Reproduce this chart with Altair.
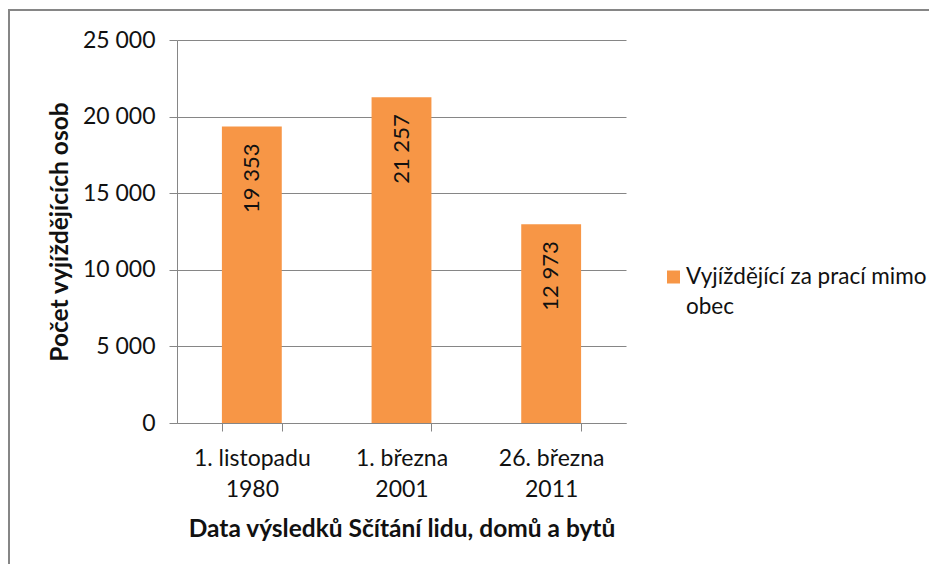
import altair as alt
import pandas as pd

categories = ["1. listopadu|1980", "1. března|2001", "26. března|2011"]
values = [19353, 21257, 12973]
series_name = "Vyjíždějící za prací mimo obec"
y_ticks = [0, 5000, 10000, 15000, 20000, 25000]

df = pd.DataFrame({"date": categories, "value": values, "series": [series_name] * 3})

FONT = "Lato"
ORANGE = "#F79646"
GRID = "#868686"
TXT = "#111111"

base = alt.Chart(df)
y_scale = alt.Scale(domain=[0, 25000], nice=False, zero=True)

x_enc = alt.X(
    "date:N",
    sort=categories,
    scale=alt.Scale(paddingInner=0.6, paddingOuter=0.3),
    axis=alt.Axis(
        title="Data výsledků Sčítání lidu, domů a bytů",
        labelAngle=0,
        labelExpr="split(datum.label, '|')",
        labelLineHeight=31,
        labelPadding=16,
        labelFont=FONT, labelFontSize=23, labelColor=TXT,
        tickBand="extent", tickSize=8, tickColor=GRID,
        domainColor=GRID,
        titleFont=FONT, titleFontSize=24.5, titleFontWeight="bold", titleColor=TXT,
        titlePadding=16,
        grid=False,
    ),
)

bars = base.mark_bar(color=ORANGE).encode(
    x=x_enc,
    y=alt.Y(
        "value:Q",
        scale=y_scale,
        axis=alt.Axis(
            values=y_ticks,
            labelExpr="replace(format(datum.value, ','), ',', ' ')",
            title="Počet vyjíždějících osob",
            labelFont=FONT, labelFontSize=23, labelColor=TXT,
            labelPadding=14,
            tickSize=8, tickColor=GRID, domainColor=GRID,
            gridColor=GRID, grid=True,
            titleFont=FONT, titleFontSize=24.5, titleFontWeight="bold", titleColor=TXT,
            titlePadding=10,
        ),
    ),
)

labels = base.transform_calculate(
    lbl="replace(format(datum.value, ','), ',', ' ')"
).mark_text(
    angle=270, align="right", baseline="middle", dx=-17,
    font=FONT, fontSize=22, color=TXT,
).encode(
    x=alt.X("date:N", sort=categories),
    y=alt.Y("value:Q", scale=y_scale),
    text="lbl:N",
)

# legend (manual, to match the wrapped label)
leg_df = pd.DataFrame({"series": [series_name]})
leg_symbol = alt.Chart(leg_df).mark_square(size=169, color=ORANGE, opacity=1).encode(
    x=alt.value(496.5), y=alt.value(237)
)
leg_text = alt.Chart(leg_df).transform_calculate(
    lines="['Vyjíždějící za prací mimo', 'obec']"
).mark_text(
    align="left", baseline="middle", lineHeight=30,
    font=FONT, fontSize=22.5, color=TXT,
).encode(
    x=alt.value(509), y=alt.value(237), text="lines:N"
)

frame_df = pd.DataFrame({"a": [0]})
frame_left = alt.Chart(frame_df).mark_rule(color=GRID, strokeWidth=2).encode(
    x=alt.value(-168), y=alt.value(-31), y2=alt.value(560)
)
frame_top = alt.Chart(frame_df).mark_rule(color=GRID, strokeWidth=2).encode(
    x=alt.value(-169), x2=alt.value(780), y=alt.value(-30)
)

chart = alt.layer(bars, labels, leg_symbol, leg_text, frame_left, frame_top).properties(
    width=449,
    height=383,
    autosize=alt.AutoSizeParams(type="none"),
    padding={"left": 169, "top": 32, "right": 303, "bottom": 141},
).configure_view(stroke=None)

chart.save("out.html", embed_options={"renderer": "svg", "actions": False})
